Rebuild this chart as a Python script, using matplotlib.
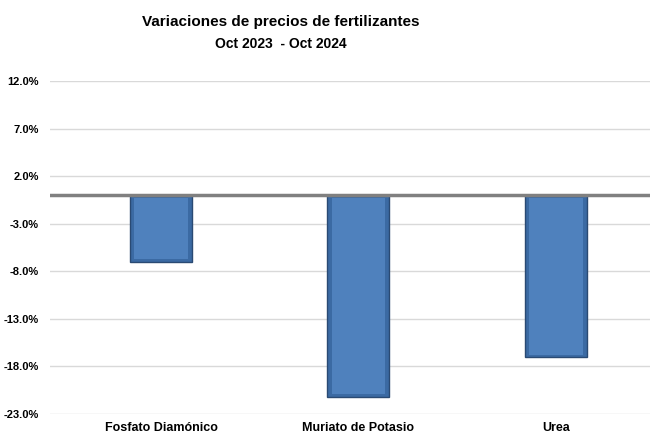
import numpy as np
import matplotlib.pyplot as plt

# Data
categorias = ["Fosfato Diamónico", "Muriato de Potasio", "Urea"]
variacion = [-7.0, -21.2, -17.0]
y_ticks = [-23.0, -18.0, -13.0, -8.0, -3.0, 2.0, 7.0, 12.0]

plt.rcParams['font.family'] = ['Liberation Sans Narrow', 'Liberation Sans', 'DejaVu Sans']

fig = plt.figure(figsize=(6.5, 4.44), dpi=100)
ax = fig.add_axes([50 / 650, 1 - 414 / 444, 600 / 650, (414 - 81) / 444])

x = np.arange(len(categorias))
ancho = 0.314

# bars with a simple bevel look
ax.bar(x, variacion, width=ancho, color='#3b6aa3', edgecolor='#2a4a73', linewidth=1.0, zorder=3)
ax.bar(x, np.array(variacion) + 0.5, bottom=-0.25, width=ancho * 0.86,
       color='#4f81bd', linewidth=0, zorder=4)

ax.set_xlim(-0.562, 2.476)
ax.set_ylim(-23, 12)
ax.set_yticks(y_ticks)
ax.set_yticklabels([f"{v:.1f}%" for v in y_ticks], fontsize=8, fontweight='bold')
ax.set_xticks(x)
ax.set_xticklabels(categorias, fontsize=9, fontweight='bold')
ax.tick_params(length=0, pad=8)
ax.tick_params(axis='x', pad=6)

ax.grid(axis='y', color='#d9d9d9', linewidth=1, zorder=0)
ax.axhline(0, color='#808080', linewidth=2.5, zorder=5)
for s in ax.spines.values():
    s.set_visible(False)

fig.text(281 / 650, 1 - 22 / 444, "Variaciones de precios de fertilizantes",
         ha='center', va='center', fontsize=11, fontweight='bold')
fig.text(281 / 650, 1 - 44 / 444, "Oct 2023  - Oct 2024",
         ha='center', va='center', fontsize=10, fontweight='bold')

fig.savefig("out.png", dpi=100)
